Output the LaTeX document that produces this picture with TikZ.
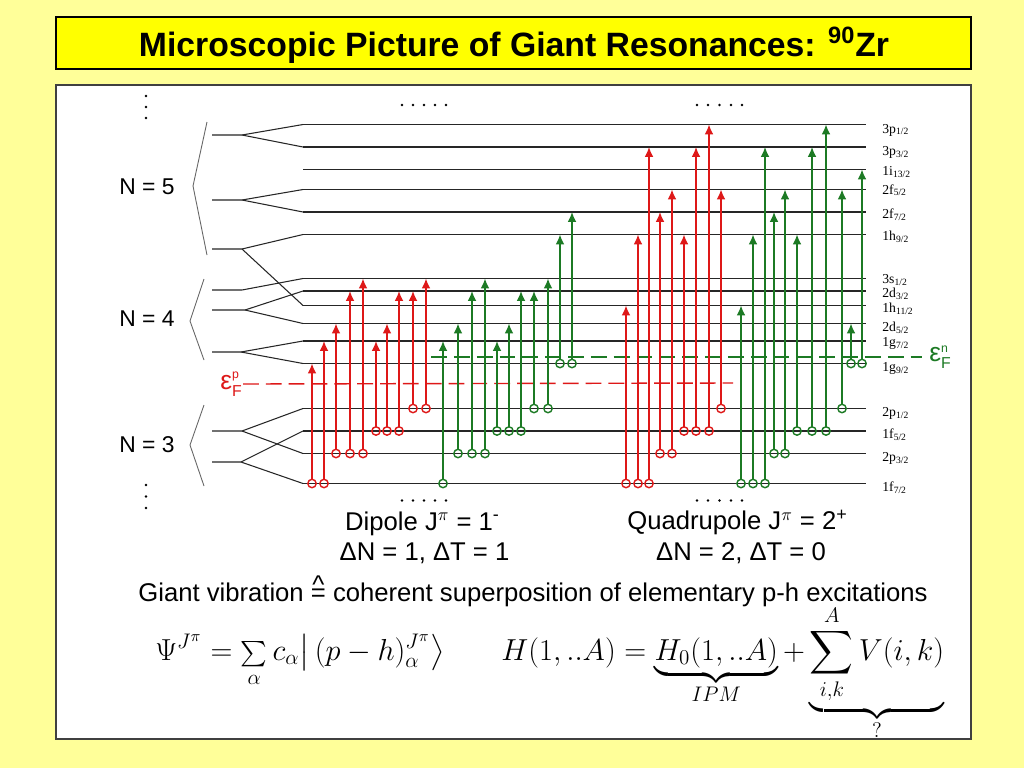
\documentclass[tikz,border=0pt]{standalone}
\usepackage{amsmath}
\usepackage{fontspec}
\setmainfont{Liberation Sans}
\newfontfamily\shellfont{Liberation Serif}
\usetikzlibrary{arrows.meta}

\definecolor{paleyellow}{RGB}{255,255,153}
\definecolor{titleyellow}{RGB}{255,255,0}
\definecolor{protonred}{RGB}{222,24,24}
\definecolor{neutrongreen}{RGB}{28,122,36}

\newcommand{\corresp}{\ooalign{=\cr\hfil\raisebox{0.3em}{\textasciicircum}\hfil\cr}}
\newcommand{\fermilab}[1]{ε$^{\mbox{\fontsize{7}{8}\selectfont #1}}_{\mbox{\fontsize{9}{10}\selectfont F}}$}

\begin{document}
\begin{tikzpicture}[x=0.02cm,y=-0.02cm]

    \tikzset{
      shellline/.style={line width=1.1pt,color=black!85},
      splitline/.style={line width=0.6pt,color=black!85},
      bracket/.style={line width=0.5pt,color=black!60},
      shelltag/.style={anchor=base west,inner sep=0pt,font=\shellfont\fontsize{7.8}{9}\selectfont},
      ptrans/.style={color=protonred,line width=0.9pt,-{Latex[length=5.6pt,width=5pt]}},
      ntrans/.style={color=neutrongreen,line width=0.9pt,-{Latex[length=5.6pt,width=5pt]}},
      phole/.style={color=protonred,line width=0.8pt},
      nhole/.style={color=neutrongreen,line width=0.8pt},
      txt/.style={anchor=base,inner sep=0pt,font=\fontsize{14.6}{17}\selectfont},
      ntxt/.style={anchor=base,inner sep=0pt,font=\fontsize{13}{15}\selectfont},
      fermi/.style={line width=0.8pt,dash pattern=on 9pt off 4pt},
    }
    \useasboundingbox (0,0) rectangle (1024,768);
    \fill[paleyellow] (0,0) rectangle (1024,768);

	% title and frame
	\draw[fill=titleyellow,line width=0.6pt] (56,17) rectangle (971,69);
	\node[anchor=base,inner sep=0pt,font=\fontsize{19.2}{22}\selectfont\bfseries] (title) at (514,56.5) {Microscopic Picture of Giant Resonances: \textsuperscript{90}Zr};
	\draw[fill=white,draw=black!75,line width=0.6pt] (56,85) rectangle (971,739);

	% oscillator shells
	\draw[bracket] (207,122)--(193,186)--(207,255);
	\draw[bracket] (204,279)--(190,321)--(204,360);
	\draw[bracket] (204,405)--(190,445)--(204,486);
	\node[ntxt] (n5) at (147,194) {N = 5};
	\node[ntxt] (n4) at (147,326) {N = 4};
	\node[ntxt] (n3) at (147,452.5) {N = 3};

	% spin-orbit splitting
	\draw[splitline] (212,135)--(242,135)--(303,124.5);
	\draw[splitline] (242,135)--(303,147);
	\draw[splitline] (212,200)--(242,200)--(303,189.5);
	\draw[splitline] (242,200)--(303,212);
	\draw[splitline] (212,249)--(242,249)--(303,234.5);
	\draw[splitline] (242,249)--(303,305.5);
	\draw[splitline] (212,290)--(242,290)--(303,278.5);
	\draw[splitline] (212,310)--(245,310)--(303,291);
	\draw[splitline] (245,310)--(303,323.5);
	\draw[splitline] (212,352)--(241,352)--(303,341);
	\draw[splitline] (241,352)--(303,363.5);
	\draw[splitline] (212,431)--(242,431)--(303,408.5);
	\draw[splitline] (242,431)--(303,453.5);
	\draw[splitline] (212,462)--(241,462)--(303,431);
	\draw[splitline] (241,462)--(303,483.5);

	% single-particle levels
	\draw[shellline] (303,124.5)--(866,124.5);
	\draw[shellline] (303,147)--(866,147);
	\draw[shellline] (303,169.5)--(866,169.5);
	\draw[shellline] (303,189.5)--(866,189.5);
	\draw[shellline] (303,212)--(866,212);
	\draw[shellline] (303,234.5)--(866,234.5);
	\draw[shellline] (303,278.5)--(866,278.5);
	\draw[shellline] (303,291)--(866,291);
	\draw[shellline] (303,305.5)--(866,305.5);
	\draw[shellline] (303,323.5)--(866,323.5);
	\draw[shellline] (303,341)--(866,341);
	\draw[shellline] (303,363.5)--(866,363.5);
	\draw[shellline] (303,408.5)--(866,408.5);
	\draw[shellline] (303,431)--(866,431);
	\draw[shellline] (303,453.5)--(866,453.5);
	\draw[shellline] (303,483.5)--(866,483.5);

	\node[shelltag] (s3p1) at (882,133) {3p\textsubscript{1/2}};
	\node[shelltag] (s3p3) at (882,155.5) {3p\textsubscript{3/2}};
	\node[shelltag] (s1i13) at (882,175.5) {1i\textsubscript{13/2}};
	\node[shelltag] (s2f5) at (882,194) {2f\textsubscript{5/2}};
	\node[shelltag] (s2f7) at (882,218.5) {2f\textsubscript{7/2}};
	\node[shelltag] (s1h9) at (882,240.5) {1h\textsubscript{9/2}};
	\node[shelltag] (s3s1) at (882,283.5) {3s\textsubscript{1/2}};
	\node[shelltag] (s2d3) at (882,297.5) {2d\textsubscript{3/2}};
	\node[shelltag] (s1h11) at (882,312.5) {1h\textsubscript{11/2}};
	\node[shelltag] (s2d5) at (882,331.5) {2d\textsubscript{5/2}};
	\node[shelltag] (s1g7) at (882,346.5) {1g\textsubscript{7/2}};
	\node[shelltag] (s1g9) at (882,371.5) {1g\textsubscript{9/2}};
	\node[shelltag] (s2p1) at (882,416.5) {2p\textsubscript{1/2}};
	\node[shelltag] (s1f5) at (882,438.5) {1f\textsubscript{5/2}};
	\node[shelltag] (s2p3) at (882,461.5) {2p\textsubscript{3/2}};
	\node[shelltag] (s1f7) at (882,491.5) {1f\textsubscript{7/2}};

	% fermi levels
	\node[anchor=east,inner sep=0pt,color=protonred,font=\fontsize{15}{17}\selectfont] (efp) at (243,384) {\fermilab{p}};
	\node[anchor=west,inner sep=0pt,color=neutrongreen,font=\fontsize{15}{17}\selectfont] (efn) at (929,357) {\fermilab{n}};
	\draw[fermi,color=protonred] (efp.east)--(733,383);
	\draw[fermi,color=neutrongreen] (431,357)--(922,357);

	% dipole, protons
	\draw[phole] (312,483.5) circle (4.2); \draw[ptrans] (312,479.3)--(312,363.5);
	\draw[phole] (324,483.5) circle (4.2); \draw[ptrans] (324,479.3)--(324,341);
	\draw[phole] (336,453.5) circle (4.2); \draw[ptrans] (336,449.3)--(336,323.5);
	\draw[phole] (350,453.5) circle (4.2); \draw[ptrans] (350,449.3)--(350,291);
	\draw[phole] (363,453.5) circle (4.2); \draw[ptrans] (363,449.3)--(363,278.5);
	\draw[phole] (376,431) circle (4.2); \draw[ptrans] (376,426.8)--(376,341);
	\draw[phole] (387,431) circle (4.2); \draw[ptrans] (387,426.8)--(387,323.5);
	\draw[phole] (399,431) circle (4.2); \draw[ptrans] (399,426.8)--(399,291);
	\draw[phole] (413,408.5) circle (4.2); \draw[ptrans] (413,404.3)--(413,291);
	\draw[phole] (426,408.5) circle (4.2); \draw[ptrans] (426,404.3)--(426,278.5);

	% dipole, neutrons
	\draw[nhole] (443,483.5) circle (4.2); \draw[ntrans] (443,479.3)--(443,341);
	\draw[nhole] (458,453.5) circle (4.2); \draw[ntrans] (458,449.3)--(458,323.5);
	\draw[nhole] (472,453.5) circle (4.2); \draw[ntrans] (472,449.3)--(472,291);
	\draw[nhole] (485,453.5) circle (4.2); \draw[ntrans] (485,449.3)--(485,278.5);
	\draw[nhole] (497,431) circle (4.2); \draw[ntrans] (497,426.8)--(497,341);
	\draw[nhole] (509,431) circle (4.2); \draw[ntrans] (509,426.8)--(509,323.5);
	\draw[nhole] (521,431) circle (4.2); \draw[ntrans] (521,426.8)--(521,291);
	\draw[nhole] (534,408.5) circle (4.2); \draw[ntrans] (534,404.3)--(534,291);
	\draw[nhole] (548,408.5) circle (4.2); \draw[ntrans] (548,404.3)--(548,278.5);
	\draw[nhole] (560,363.5) circle (4.2); \draw[ntrans] (560,359.3)--(560,234.5);
	\draw[nhole] (572,363.5) circle (4.2); \draw[ntrans] (572,359.3)--(572,212);

	% quadrupole, protons
	\draw[phole] (626,483.5) circle (4.2); \draw[ptrans] (626,479.3)--(626,305.5);
	\draw[phole] (638,483.5) circle (4.2); \draw[ptrans] (638,479.3)--(638,234.5);
	\draw[phole] (649,483.5) circle (4.2); \draw[ptrans] (649,479.3)--(649,147);
	\draw[phole] (660,453.5) circle (4.2); \draw[ptrans] (660,449.3)--(660,212);
	\draw[phole] (672,453.5) circle (4.2); \draw[ptrans] (672,449.3)--(672,189.5);
	\draw[phole] (684,431) circle (4.2); \draw[ptrans] (684,426.8)--(684,234.5);
	\draw[phole] (696,431) circle (4.2); \draw[ptrans] (696,426.8)--(696,147);
	\draw[phole] (709,431) circle (4.2); \draw[ptrans] (709,426.8)--(709,124.5);
	\draw[phole] (721,408.5) circle (4.2); \draw[ptrans] (721,404.3)--(721,189.5);

	% quadrupole, neutrons
	\draw[nhole] (741,483.5) circle (4.2); \draw[ntrans] (741,479.3)--(741,305.5);
	\draw[nhole] (753,483.5) circle (4.2); \draw[ntrans] (753,479.3)--(753,234.5);
	\draw[nhole] (765,483.5) circle (4.2); \draw[ntrans] (765,479.3)--(765,147);
	\draw[nhole] (774,453.5) circle (4.2); \draw[ntrans] (774,449.3)--(774,212);
	\draw[nhole] (785,453.5) circle (4.2); \draw[ntrans] (785,449.3)--(785,189.5);
	\draw[nhole] (797,431) circle (4.2); \draw[ntrans] (797,426.8)--(797,234.5);
	\draw[nhole] (812,431) circle (4.2); \draw[ntrans] (812,426.8)--(812,147);
	\draw[nhole] (826,431) circle (4.2); \draw[ntrans] (826,426.8)--(826,124.5);
	\draw[nhole] (842,408.5) circle (4.2); \draw[ntrans] (842,404.3)--(842,189.5);
	\draw[nhole] (851,363.5) circle (4.2); \draw[ntrans] (851,359.3)--(851,323.5);
	\draw[nhole] (862,363.5) circle (4.2); \draw[ntrans] (862,359.3)--(862,169.5);

	% more shells
	\fill (146,96) circle (1.4) (146,107) circle (1.4) (146,118) circle (1.4);
	\fill (146,485) circle (1.4) (146,496.5) circle (1.4) (146,508) circle (1.4);
	\fill (402,105) circle (1.3) (413,105) circle (1.3) (424,105) circle (1.3) (435,105) circle (1.3) (446,105) circle (1.3);
	\fill (697,105) circle (1.3) (708,105) circle (1.3) (719.5,105) circle (1.3) (731,105) circle (1.3) (742,105) circle (1.3);
	\fill (402,500.5) circle (1.3) (413,500.5) circle (1.3) (424,500.5) circle (1.3) (435,500.5) circle (1.3) (446,500.5) circle (1.3);
	\fill (697,500.5) circle (1.3) (708,500.5) circle (1.3) (719.5,500.5) circle (1.3) (731,500.5) circle (1.3) (742,500.5) circle (1.3);

	% captions
	\node[txt] (dip) at (422.5,530) {Dipole J\textsuperscript{$\pi$} = 1\textsuperscript{-}};
	\node[txt] (dipsel) at (424.5,560) {ΔN = 1, ΔT = 1};
	\node[txt] (quad) at (737.5,529.5) {Quadrupole J\textsuperscript{$\pi$} = 2\textsuperscript{+}};
	\node[txt] (quadsel) at (741,560) {ΔN = 2, ΔT = 0};
	\node[txt] (giant) at (533,601.5) {Giant vibration \corresp{} coherent superposition of elementary p-h excitations};

	% wave function and hamiltonian
	\node[anchor=base west,inner sep=0pt,font=\fontsize{18}{21}\selectfont] (psi) at (155,660) {$\Psi^{J^\pi} = \mathop{\text{\fontsize{15}{17}\selectfont$\sum$}}\limits_{\alpha} c_\alpha \big|\,(p-h)^{J^\pi}_\alpha \big\rangle$};
	\node[anchor=base west,inner sep=0pt,font=\fontsize{18}{21}\selectfont] (ham) at (501,660) {$\displaystyle H(1,..A) = \underbrace{H_0(1,..A)}_{IPM} + \underbrace{\sum_{i,k}^{A} V(i,k)}_{?}$};

\end{tikzpicture}
\end{document}
